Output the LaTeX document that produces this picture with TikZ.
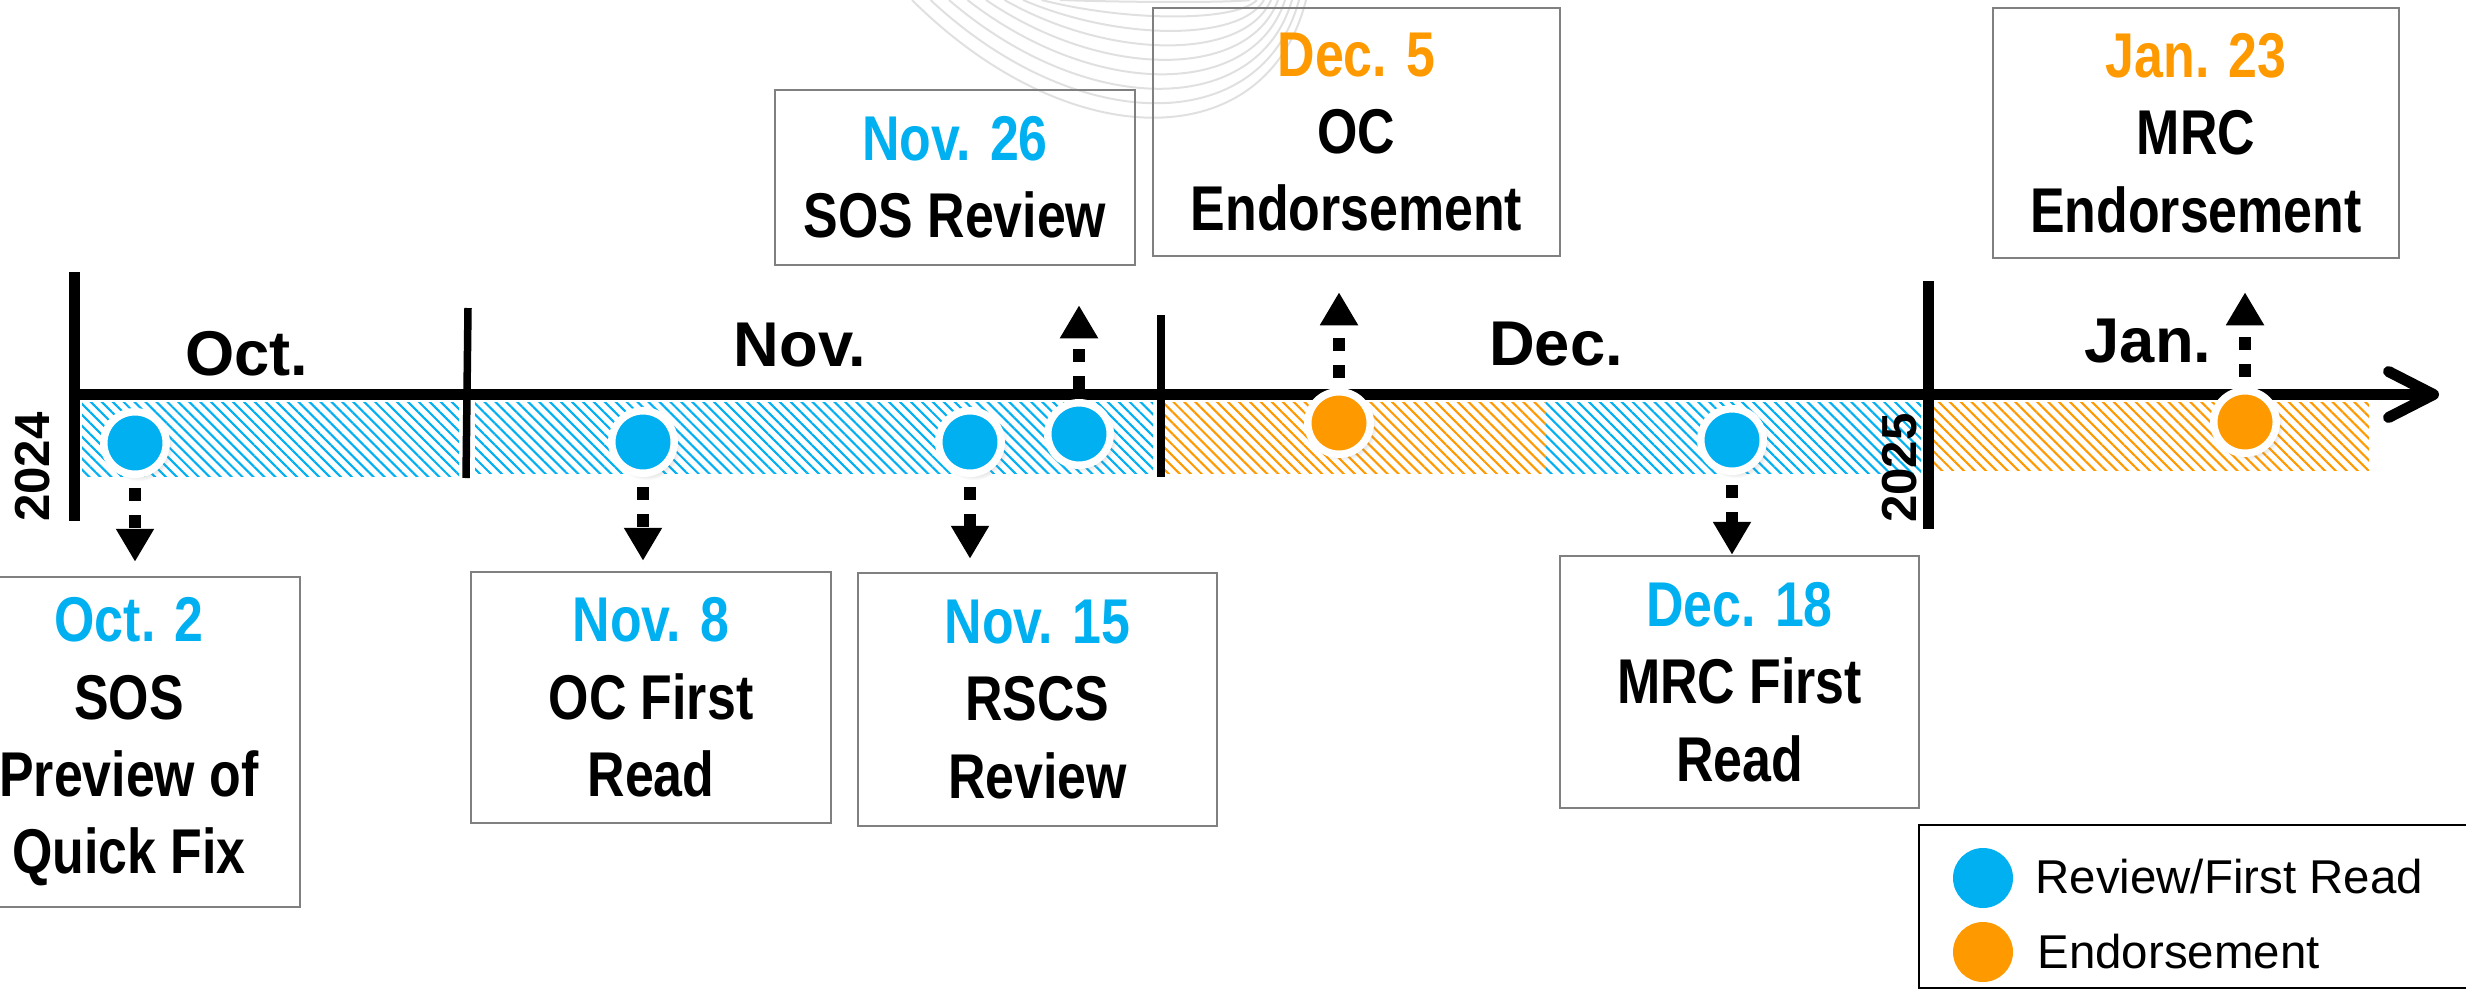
\documentclass[tikz,border=0pt]{standalone}
\usepackage{fontspec}
\setmainfont{Liberation Sans}
\newfontfamily\narrowfont[FakeStretch=0.82]{Liberation Sans}
\usetikzlibrary{arrows.meta,patterns.meta,shadows}
\definecolor{revBlue}{RGB}{0,176,240}
\definecolor{endOrange}{RGB}{255,153,0}
\definecolor{boxGray}{RGB}{128,128,128}
\definecolor{arcGray}{RGB}{224,224,224}

\begin{document}
\begin{tikzpicture}[x=0.1mm, y=-0.1mm,
        evbox/.style={draw=boxGray, line width=0.25mm, align=center, inner sep=0pt,
            font=\narrowfont\bfseries\fontsize{18}{22}\selectfont},
        evdot/.style={circle, draw=white, line width=0.75mm, minimum size=6.25mm, inner sep=0pt,
            circular drop shadow={shadow xshift=0.35mm, shadow yshift=-0.35mm, opacity=0.2}},
        evarrow/.style={line width=1.2mm, dash pattern=on 1.3mm off 1.4mm,
            -{Triangle[width=3.6mm,length=3.3mm]}, shorten <=1mm},
        hatch/.style={pattern={Lines[angle=-45,distance=2.2pt,line width=0.6pt]}, pattern color=#1},
        month/.style={anchor=base, font=\bfseries\fontsize{18}{20}\selectfont},
        year/.style={rotate=90, font=\bfseries\fontsize{14}{16}\selectfont}]
        \useasboundingbox (0,0) rectangle (2466,989);
        \clip (0,0) rectangle (2466,989);
        % faint arcs in the background
        \foreach \i in {0,...,8} {
            \pgfmathsetmacro{\L}{1060-18.5*\i}
            \pgfmathsetmacro{\R}{1250+7*\i}
            \pgfmathsetmacro{\D}{1.33*(2+14.5*\i)}
            \draw[arcGray, line width=0.2mm] (\L,0) .. controls ({\L+0.4*(\R-\L)},\D) and ({\R-0.1*(\R-\L)},\D) .. (\R,0);
        }
        % event boxes
        \node[evbox, minimum width=34.2mm, minimum height=33mm] (b1) at (129,742) {\textcolor{revBlue}{Oct. 2}\\SOS\\Preview of\\Quick Fix};
        \node[evbox, minimum width=36mm, minimum height=25.1mm] (b2) at (651,697.5) {\textcolor{revBlue}{Nov. 8}\\OC First\\Read};
        \node[evbox, minimum width=35.9mm, minimum height=25.3mm] (b3) at (1037.5,699.5) {\textcolor{revBlue}{Nov. 15}\\RSCS\\Review};
        \node[evbox, minimum width=36mm, minimum height=17.5mm] (b4) at (955,177.5) {\textcolor{revBlue}{Nov. 26}\\SOS Review};
        \node[evbox, minimum width=40.7mm, minimum height=24.8mm] (b5) at (1356.5,132) {\textcolor{endOrange}{Dec. 5}\\OC\\Endorsement};
        \node[evbox, minimum width=35.9mm, minimum height=25.2mm] (b6) at (1739.5,682) {\textcolor{revBlue}{Dec. 18}\\MRC First\\Read};
        \node[evbox, minimum width=40.6mm, minimum height=25mm] (b7) at (2196,133) {\textcolor{endOrange}{Jan. 23}\\MRC\\Endorsement};
        % hatched bands
        \fill[hatch=revBlue] (82,402) rectangle (459,476);
        \fill[hatch=revBlue] (475,402) rectangle (1153,473);
        \fill[hatch=endOrange] (1165,402) rectangle (1546,473);
        \fill[hatch=revBlue] (1546,402) rectangle (1921,473);
        \fill[hatch=endOrange] (1934,402) rectangle (2369,470);
        % time line
        \draw[line width=1.1mm, -{Straight Barb[length=4.5mm,width=4.6mm,round]}] (69,394.5) -- (2439,394.5);
        \draw[line width=1.1mm] (74,272) -- (74,521);
        \draw[line width=0.75mm] (468,308) -- (466,478);
        \draw[line width=0.75mm] (1161,315) -- (1161,477);
        \draw[line width=1.1mm] (1928,281) -- (1928,529);
        \node[month] (oct) at (247,375) {Oct.};
        \node[month] (nov) at (800,366) {Nov.};
        \node[month] (dec) at (1556,365) {Dec.};
        \node[month] (jan) at (2148,362) {Jan.};
        \node[year] (y24) at (33,467) {2024};
        \node[year] (y25) at (1900,468) {2025};
        % events
        \node[evdot, fill=revBlue] (d1) at (135,443) {};
        \node[evdot, fill=revBlue] (d2) at (643,442) {};
        \node[evdot, fill=revBlue] (d3) at (970,442) {};
        \node[evdot, fill=revBlue] (d4) at (1079,434) {};
        \node[evdot, fill=endOrange] (d5) at (1339,423) {};
        \node[evdot, fill=revBlue] (d6) at (1732,440) {};
        \node[evdot, fill=endOrange] (d7) at (2245,422) {};
        \draw[evarrow, shorten >=1.4mm] (d1.south) -- (d1.south |- b1.north);
        \draw[evarrow, shorten >=1mm] (d2.south) -- (d2.south |- b2.north);
        \draw[evarrow, shorten >=1.3mm] (d3.south) -- (d3.south |- b3.north);
        \draw[evarrow, shorten >=3.9mm] (d4.north) -- (d4.north |- b4.south);
        \draw[evarrow, shorten >=3.5mm] (d5.north) -- (d5.north |- b5.south);
        \draw[evarrow, shorten >=0mm] (d6.south) -- (d6.south |- b6.north);
        \draw[evarrow, shorten >=3.3mm] (d7.north) -- (d7.north |- b7.south);
        % legend
        \draw[line width=0.2mm] (1919,825) rectangle (2475,988);
        \node[circle, fill=revBlue, minimum width=6mm, inner sep=0pt] (lg1) at (1983,878) {};
        \node[circle, fill=endOrange, minimum width=6mm, inner sep=0pt] (lg2) at (1983,952) {};
        \node[anchor=base west, font=\fontsize{13.5}{16}\selectfont] (lt1) at (2023,893) {Review/First Read};
        \node[anchor=base west, font=\fontsize{13.5}{16}\selectfont] (lt2) at (2025,968) {Endorsement};
    \end{tikzpicture}
\end{document}
